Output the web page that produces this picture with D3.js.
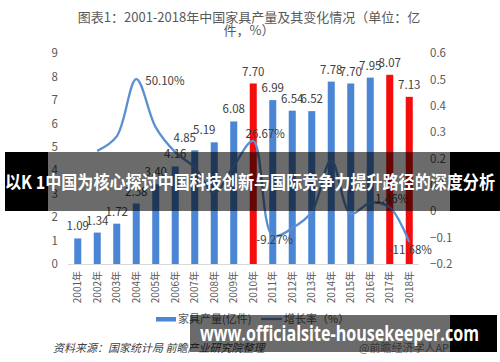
<!DOCTYPE html>
<html><head><meta charset="utf-8">
<script src="https://cdn.jsdelivr.net/npm/d3@7"></script>
<style>
html,body{margin:0;padding:0;background:#fff;}
svg{display:block;font-family:"Noto Sans CJK SC","Noto Sans",sans-serif;}
</style></head>
<body>
<svg id="c" width="500" height="362"></svg>
<script>
// ---- data ----
const years = ["2001年","2002年","2003年","2004年","2005年","2006年","2007年","2008年","2009年","2010年","2011年","2012年","2013年","2014年","2015年","2016年","2017年","2018年"];
const output = [1.09,1.34,1.72,2.58,3.40,4.16,4.85,5.19,6.08,7.70,6.99,6.54,6.52,7.78,7.70,7.95,8.07,7.13];
const growth = [null,0.229,0.284,0.501,0.318,0.224,0.166,0.070,0.172,0.2667,-0.0927,-0.064,-0.003,0.193,-0.010,0.032,0.0146,-0.1168];
const growthLabels = [null,null,null,"50.10%",null,null,null,null,null,"26.67%","-9.27%",null,null,null,null,null,"1.46%","-11.68%"];
const highlightYears = ["2010年","2017年","2018年"];
const leftTicks = [0,1,2,3,4,5,6,7,8,9];
const rightTicks = [-0.2,-0.1,0,0.1,0.2,0.3,0.4,0.5,0.6];
const titleLines = ["图表1：2001-2018年中国家具产量及其变化情况（单位：亿","件，%）"];
const legendLabels = ["家具产量(亿件)","增长率（%）"];
const sourceText = "资料来源：国家统计局 前瞻产业研究院整理";
const creditText = "@前瞻经济学人APP";
const bannerText = "以K 1中国为核心探讨中国科技创新与国际竞争力提升路径的深度分析";
const urlText = "www.officialsite-housekeeper.com";

// ---- drawing ----
const svg = d3.select("#c");
const BLUE = "#4a86d4", RED = "#f50d0d", LINE = "#5b8fd2", TXT = "#595959", LBL = "#404040";

const x = d3.scaleBand().domain(years).range([68,419]).paddingInner(0.64).paddingOuter(0.32);
const yL = d3.scaleLinear().domain([0,9]).range([264,53]);
const yR = d3.scaleLinear().domain([-0.2,0.6]).range([264,53]);

// title
svg.append("g").selectAll("text").data(titleLines).join("text")
  .attr("x",249).attr("y",(d,i)=>17+i*13.5).attr("dy","0.35em")
  .attr("text-anchor","middle").attr("font-size",13).attr("fill",TXT).text(d=>d);

// left axis
const gl = svg.append("g").attr("transform","translate(58,0)")
  .call(d3.axisLeft(yL).tickValues(leftTicks).tickSize(0).tickPadding(0).tickFormat(d3.format("d")));
gl.select(".domain").remove();
gl.selectAll("text").attr("font-size",11.5).attr("fill",TXT).attr("font-family","Noto Sans CJK SC");

// right axis
const gr = svg.append("g").attr("transform","translate(430,0)")
  .call(d3.axisRight(yR).tickValues(rightTicks).tickSize(0).tickPadding(0).tickFormat(d=>d3.format(".1~f")(d)));
gr.select(".domain").remove();
gr.selectAll("text").attr("font-size",11.5).attr("fill",TXT).attr("font-family","Noto Sans CJK SC");

// x axis line
svg.append("line").attr("x1",68).attr("x2",419).attr("y1",264.5).attr("y2",264.5)
  .attr("stroke","#d9d9d9").attr("stroke-width",1);

// x labels
svg.append("g").selectAll("text").data(years).join("text")
  .attr("transform",d=>`translate(${x(d)+x.bandwidth()/2},271) rotate(-90)`)
  .attr("text-anchor","end").attr("dy","0.35em").attr("font-size",10).attr("fill",TXT).text(d=>d);

// bars
svg.append("g").selectAll("rect").data(years).join("rect")
  .attr("x",d=>x(d)).attr("width",x.bandwidth())
  .attr("y",(d,i)=>yL(output[i])).attr("height",(d,i)=>yL(0)-yL(output[i]))
  .attr("fill",d=>highlightYears.includes(d)?RED:BLUE);

// bar labels
const shiftLeft = {"2007年":-10,"2008年":-10};
svg.append("g").selectAll("text").data(years).join("text")
  .attr("x",d=>x(d)+x.bandwidth()/2+(shiftLeft[d]||0))
  .attr("y",(d,i)=>yL(output[i])-12).attr("dy","0.35em")
  .attr("text-anchor","middle").attr("font-size",11.5).attr("fill",LBL)
  .text((d,i)=>output[i].toFixed(2));

// growth line
const pts = years.map((d,i)=>({d,v:growth[i],lab:growthLabels[i]})).filter(p=>p.v!==null);
const line = d3.line().x(p=>x(p.d)+x.bandwidth()/2).y(p=>yR(p.v)).curve(d3.curveCatmullRom.alpha(0.5));
svg.append("path").datum(pts).attr("d",line).attr("fill","none")
  .attr("stroke",LINE).attr("stroke-width",2.3).attr("stroke-linejoin","round");

// growth labels
const labOff = {"50.10%":[9,2,"start"],"26.67%":[12,-7,"middle"],"-9.27%":[2,4,"middle"],"1.46%":[2,-8,"middle"],"-11.68%":[1,8,"middle"]};
svg.append("g").selectAll("text").data(pts.filter(p=>p.lab)).join("text")
  .attr("x",p=>x(p.d)+x.bandwidth()/2+labOff[p.lab][0])
  .attr("y",p=>yR(p.v)+labOff[p.lab][1]).attr("dy","0.35em")
  .attr("text-anchor",p=>labOff[p.lab][2]).attr("font-size",11.5).attr("fill",LBL).text(p=>p.lab);

// legend
svg.append("rect").attr("x",156).attr("y",317).attr("width",20).attr("height",4.5).attr("fill",BLUE);
svg.append("text").attr("x",178).attr("y",319).attr("dy","0.35em").attr("font-size",11).attr("fill",TXT).text(legendLabels[0]);
svg.append("line").attr("x1",261).attr("x2",282).attr("y1",319).attr("y2",319).attr("stroke",LINE).attr("stroke-width",2.3);
svg.append("text").attr("x",284).attr("y",319).attr("dy","0.35em").attr("font-size",11).attr("fill",TXT).text(legendLabels[1]);

// footer
svg.append("text").attr("x",53).attr("y",348).attr("dy","0.35em").attr("font-size",11)
  .attr("font-style","italic").attr("fill",LBL).text(sourceText);
svg.append("text").attr("x",359).attr("y",348).attr("dy","0.35em").attr("font-size",11)
  .attr("fill","#7f7f7f").text(creditText);

// overlay banners
const ov = svg.append("g");
ov.append("rect").attr("x",5).attr("y",152).attr("width",43).attr("height",59).attr("fill","#000");
ov.append("rect").attr("x",48).attr("y",152).attr("width",402).attr("height",59).attr("fill","#000").attr("opacity",0.58);
ov.append("rect").attr("x",450).attr("y",152).attr("width",50).attr("height",59).attr("fill","#000");
ov.append("text").attr("x",5).attr("y",183).attr("dy","0.35em").attr("font-size",18).attr("font-weight","bold")
  .attr("fill","#fff").attr("textLength",490).attr("lengthAdjust","spacingAndGlyphs").text(bannerText);

ov.append("rect").attr("x",190).attr("y",315).attr("width",260).attr("height",37).attr("fill","#000").attr("opacity",0.58);
ov.append("rect").attr("x",450).attr("y",315).attr("width",47).attr("height",37).attr("fill","#000");
ov.append("text").attr("x",200).attr("y",334).attr("dy","0.35em").attr("font-size",21).attr("font-weight","bold")
  .attr("font-family","'Open Sans','DejaVu Sans',sans-serif")
  .attr("fill","#fff").attr("textLength",279).attr("lengthAdjust","spacingAndGlyphs").text(urlText);
</script>
</body></html>
